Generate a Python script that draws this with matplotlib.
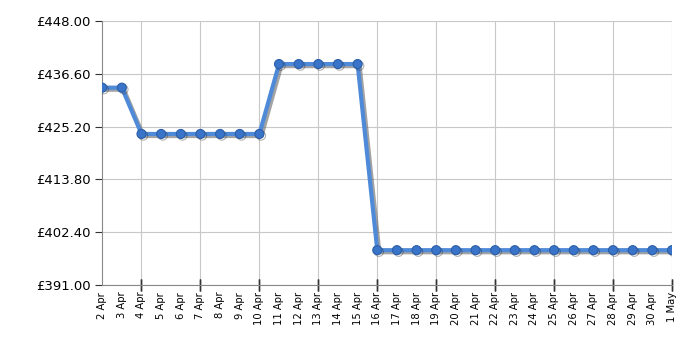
import matplotlib
matplotlib.use('Agg')
import matplotlib.pyplot as plt
import matplotlib.patheffects as pe

# price history data
days = ['2 Apr', '3 Apr', '4 Apr', '5 Apr', '6 Apr', '7 Apr', '8 Apr', '9 Apr', '10 Apr',
        '11 Apr', '12 Apr', '13 Apr', '14 Apr', '15 Apr', '16 Apr', '17 Apr', '18 Apr',
        '19 Apr', '20 Apr', '21 Apr', '22 Apr', '23 Apr', '24 Apr', '25 Apr', '26 Apr',
        '27 Apr', '28 Apr', '29 Apr', '30 Apr', '1 May']
prices = [433.6, 433.6] + [423.6] * 7 + [438.7] * 5 + [398.5] * 16
yticks = [391.0, 402.4, 413.8, 425.2, 436.6, 448.0]

fig = plt.figure(figsize=(7, 3.5), dpi=100)
ax = fig.add_axes([0.146, 0.186, 0.814, 0.754])

x = list(range(len(days)))
line_shadow = [pe.SimpleLineShadow(offset=(1.5, -1.5), shadow_color='#666666', alpha=0.6), pe.Normal()]
mark_shadow = [pe.SimpleLineShadow(offset=(1.2, -1.2), shadow_color='#222222', alpha=0.35), pe.Normal()]
ax.plot(x, prices, color='#4f8ad9', lw=3, zorder=3, path_effects=line_shadow)
ax.plot(x, prices, 'o', ms=6.5, color='#3a74c8', mec='#2a5ea8', mew=0.8, zorder=4,
        path_effects=mark_shadow)

ax.set_xlim(0, len(days) - 1)
ax.set_ylim(391, 448)
ax.set_yticks(yticks)
ax.set_yticklabels(['£%.2f' % v for v in yticks], fontsize=9.5)
ax.set_xticks(x)
ax.set_xticklabels(days, rotation=90, fontsize=7.2)

# grid only every third day from 4 Apr
for i in range(2, len(days), 3):
    ax.axvline(i, color='#c8c8c8', lw=0.8, zorder=1)
for v in yticks:
    ax.axhline(v, color='#c8c8c8', lw=0.8, zorder=1)
ax.tick_params(axis='x', length=0, pad=5)
ax.tick_params(axis='y', length=5, color='#333333')
for i in range(2, len(days), 3):
    ax.plot([i, i], [391, 391], marker='|', ms=8, color='#333333', clip_on=False)

for s in ['top', 'right']:
    ax.spines[s].set_visible(False)
ax.spines['left'].set_color('#888888')
ax.spines['bottom'].set_color('#888888')

fig.savefig('out.png', dpi=100)
